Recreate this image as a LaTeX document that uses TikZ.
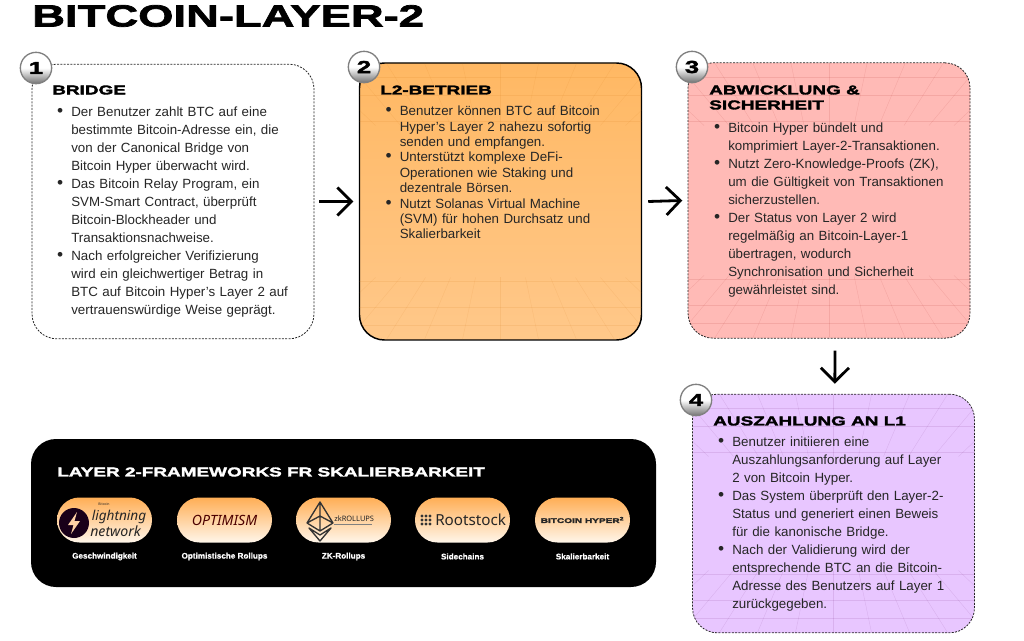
\documentclass[tikz,border=0pt]{standalone}
\usepackage{fontspec}
\usepackage{tikz}
\usetikzlibrary{arrows.meta}
\setmainfont{Liberation Sans}
\newfontfamily\displayfont[FakeStretch=1.48,FakeBold=2.4]{Liberation Sans Bold}
\newfontfamily\captionfont[FakeBold=0.8]{Liberation Sans Bold}
\newfontfamily\logofont{Noto Sans}
\definecolor{orangetop}{HTML}{FFB863}
\definecolor{orangebot}{HTML}{FFC88A}
\definecolor{pinkfill}{HTML}{FFBAB6}
\definecolor{lilacfill}{HTML}{E8C6FF}
\definecolor{pilltop}{HTML}{FFAE55}
\definecolor{pillbot}{HTML}{FFF6EA}
\definecolor{inktext}{HTML}{262626}

\newenvironment{steplist}{%
  \begin{list}{\scalebox{1.3}{\textbullet}}{\setlength{\leftmargin}{9.4pt}\setlength{\labelsep}{6pt}%
    \setlength{\labelwidth}{5pt}\setlength{\itemsep}{0pt}\setlength{\parsep}{0pt}%
    \setlength{\topsep}{0pt}\setlength{\partopsep}{0pt}}%
}{\end{list}}

\newcommand{\panelgrid}[3]{%
  \begin{scope}
    \clip[rounded corners=18.75pt] (#1.north west) rectangle (#1.south east);
    \begin{scope}[shift={(#1.center)}, draw=#3, line width=0.3pt, opacity=0.1]
      \foreach \k in {-5,...,5} {
        \draw (\k*38,-#2) -- (\k*25,-#2+62);
        \draw (\k*38,#2) -- (\k*25,#2-62);
      }
      \foreach \d in {14,32,58} {
        \draw (-150,-#2+\d) -- (150,-#2+\d);
        \draw (-150,#2-\d) -- (150,#2-\d);
      }
    \end{scope}
  \end{scope}
}

\begin{document}
\begin{tikzpicture}[
  x = 0.75pt,
  y = -0.75pt,
  panel/.style = {rectangle, rounded corners=18.75pt, minimum width=211.5pt, inner sep=0pt},
  dashpanel/.style = {panel, draw=black!85, dash pattern=on 1.5pt off 1pt, line width=0.6pt},
  badge/.style = {circle, minimum size=23.5pt, inner sep=0pt, draw=black!50, line width=1pt,
    top color=white, bottom color=black!55, middle color=white, font=\displayfont\fontsize{13}{13}\selectfont},
  heading/.style = {anchor=west, inner sep=0pt, align=left, font=\displayfont\fontsize{9.6}{11.2}\selectfont},
  body/.style = {anchor=north west, inner sep=0pt, text width=205pt, text=inktext},
  wide/.style = {font=\fontsize{10}{13.5}\selectfont},
  tight/.style = {font=\fontsize{10}{11.55}\selectfont},
  flow/.style = {line width=2.1pt, -{Straight Barb[length=10.5pt, width=21pt, line width=2.1pt]}},
  pill/.style = {rectangle, rounded corners=16.8pt, minimum width=71.25pt, minimum height=33.75pt,
    inner sep=0pt, top color=pilltop, bottom color=pillbot},
  pilllabel/.style = {text=white, inner sep=0pt, font=\captionfont\fontsize{6.1}{6.5}\selectfont},
  logotext/.style = {inner sep=0pt, text=black!85}
]
\useasboundingbox (0,0) rectangle (1024,641);

\node [anchor=west, inner sep=0pt, font=\displayfont\fontsize{23}{23}\selectfont] (title) at (32,16) {BITCOIN-LAYER-2};

\node [dashpanel, fill=white, minimum height=206pt] (bridge) at (173,201.5) {};
\node [panel, draw=black, line width=1.1pt, top color=orangetop, bottom color=orangebot, minimum height=207.75pt] (betrieb) at (500.5,201.5) {};
\node [dashpanel, fill=pinkfill, minimum height=206.5pt] (abwicklung) at (829,200.5) {};
\node [dashpanel, fill=lilacfill, minimum height=179pt] (auszahlung) at (833.5,513.5) {};

\panelgrid{betrieb}{138}{orange!80!black}
\panelgrid{abwicklung}{137}{red!60!black}
\panelgrid{auszahlung}{119}{violet!70!black}

\draw [flow] ([xshift=3.75pt]bridge.east) -- ([xshift=-4pt]betrieb.west);
\draw [flow] ([xshift=4.5pt]betrieb.east) -- ([xshift=-4pt]abwicklung.west);
\draw [flow] ([xshift=4.5pt,yshift=-9pt]abwicklung.south) -- ([xshift=1pt,yshift=7.5pt]auszahlung.north);

\node [badge] (badge1) at (36,68) {1};
\node [badge] (badge2) at (364,67) {2};
\node [badge] (badge3) at (692,67) {3};
\node [badge] (badge4) at (696,400) {4};

\node [heading] (bridgehead) at (52,90) {BRIDGE};
\node [heading] (betriebhead) at (380,90) {L2-BETRIEB};
\node [heading] (abwicklunghead) at (709,97.5) {ABWICKLUNG \&\\SICHERHEIT};
\node [heading] (auszahlunghead) at (713,421) {AUSZAHLUNG AN L1};

\node [body, wide] (bridgetext) at (58.5,98) {\begin{steplist}
  \item Der Benutzer zahlt BTC auf eine\newline bestimmte Bitcoin-Adresse ein, die\newline von der Canonical Bridge von\newline Bitcoin Hyper überwacht wird.
  \item Das Bitcoin Relay Program, ein\newline SVM-Smart Contract, überprüft\newline Bitcoin-Blockheader und\newline Transaktionsnachweise.
  \item Nach erfolgreicher Verifizierung\newline wird ein gleichwertiger Betrag in\newline BTC auf Bitcoin Hyper's Layer 2 auf\newline vertrauenswürdige Weise geprägt.
\end{steplist}};

\node [body, tight] (betriebtext) at (387,100) {\begin{steplist}
  \item Benutzer können BTC auf Bitcoin\newline Hyper's Layer 2 nahezu sofortig\newline senden und empfangen.
  \item Unterstützt komplexe DeFi-\newline Operationen wie Staking und\newline dezentrale Börsen.
  \item Nutzt Solanas Virtual Machine\newline (SVM) für hohen Durchsatz und\newline Skalierbarkeit
\end{steplist}};

\node [body, wide] (abwicklungtext) at (715.5,114) {\begin{steplist}
  \item Bitcoin Hyper bündelt und\newline komprimiert Layer-2-Transaktionen.
  \item Nutzt Zero-Knowledge-Proofs (ZK),\newline um die Gültigkeit von Transaktionen\newline sicherzustellen.
  \item Der Status von Layer 2 wird\newline regelmäßig an Bitcoin-Layer-1\newline übertragen, wodurch\newline Synchronisation und Sicherheit\newline gewährleistet sind.
\end{steplist}};

\node [body, wide] (auszahlungtext) at (719.5,428) {\begin{steplist}
  \item Benutzer initiieren eine\newline Auszahlungsanforderung auf Layer\newline 2 von Bitcoin Hyper.
  \item Das System überprüft den Layer-2-\newline Status und generiert einen Beweis\newline für die kanonische Bridge.
  \item Nach der Validierung wird der\newline entsprechende BTC an die Bitcoin-\newline Adresse des Benutzers auf Layer 1\newline zurückgegeben.
\end{steplist}};

\node [rectangle, rounded corners=18.75pt, fill=black, minimum width=468.75pt, minimum height=111pt, inner sep=0pt] (frameworks) at (343.5,513) {};
\node [heading, text=white] (frameworkshead) at (57,472) {LAYER 2-FRAMEWORKS FR SKALIERBARKEIT};

\foreach \pillname/\x/\caption in {lightning/104.5/Geschwindigkeit, optimism/224.5/Optimistische Rollups,
    zkrollups/343.5/ZK-Rollups, rootstock/462.5/Sidechains, hyper/582.5/Skalierbarkeit} {
  \node [pill] (\pillname) at (\x,520) {};
  \node [pilllabel] (\pillname label) at (\x,556.5) {\caption};
}

\node [circle, fill=black!80!violet, minimum size=22.5pt, inner sep=0pt] (boltdisc) at (74,523) {};
\fill [orange!35!white] (77,512) -- (68,525) -- (73.5,525) -- (71,534) -- (80,521) -- (74.5,521) -- cycle;
\node [logotext, font=\logofont\fontsize{2.6}{3}\selectfont] (lightningtop) at (104,504) {Bitcoin};
\node [logotext, anchor=west, font=\logofont\bfseries\itshape\fontsize{10.2}{11}\selectfont] (lightningword) at (91.5,517) {lightning};
\node [logotext, anchor=west, font=\logofont\bfseries\itshape\fontsize{10.6}{11}\selectfont] (networkword) at (90,531) {network};

\node [logotext, text=red!30!black, font=\logofont\bfseries\itshape\fontsize{10.6}{11}\selectfont] (optimismword) at (224.5,520) {OPTIMISM};

\draw [black!80, line width=1pt, line join=round] (320,502) -- (333,523) -- (320,531) -- (307,523) -- cycle
  (307,523) -- (320,516) -- (333,523) (320,502) -- (320,531)
  (309,528) -- (320,541) -- (331,528) -- (320,535) -- cycle;
\node [logotext, anchor=west, font=\logofont\bfseries\fontsize{5.6}{6}\selectfont] (zkword) at (334,519) {zkROLLUPS};
\draw [black!50, line width=0.5pt] (zkword.south west) ++(0,2.5) -- ++(38,0);

\foreach \i/\j in {0/0,1/0,2/0,0/1,1/1,2/1,0/2,1/2,2/2} {
  \fill [black!80] (422+\i*4,516+\j*4) circle (1.6);
}
\node [logotext, anchor=west, font=\logofont\fontsize{11.4}{12}\selectfont] (rootstockword) at (435,520) {Rootstock};

\node [logotext, font=\displayfont\fontsize{5.1}{6}\selectfont] (hyperword) at (582.5,520) {BITCOIN HYPER\textsuperscript{2}};

\end{tikzpicture}
\end{document}
